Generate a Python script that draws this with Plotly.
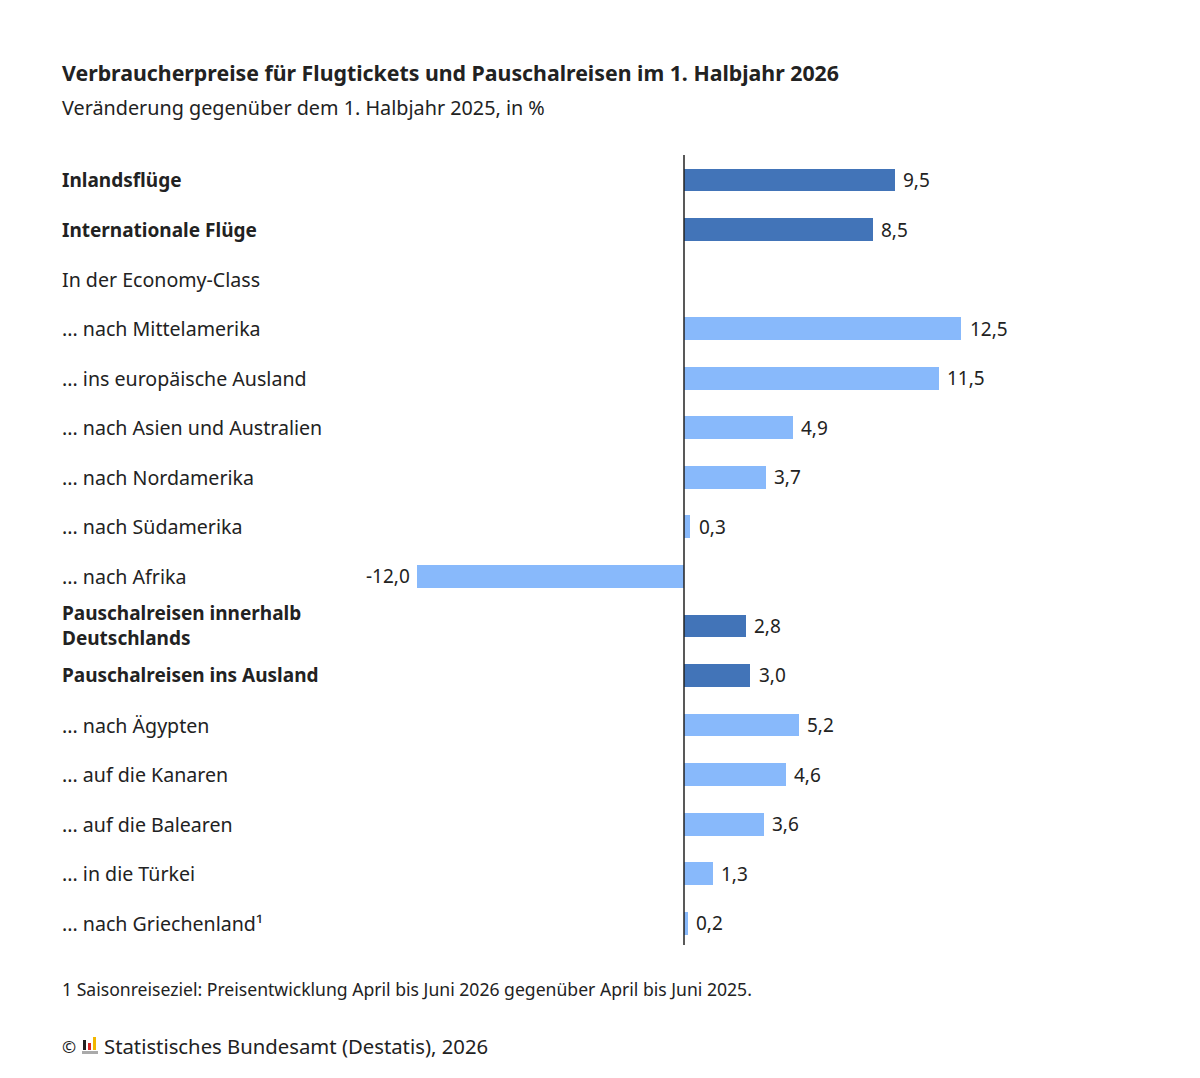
import plotly.graph_objects as go

W, H = 1200, 1078

categories = [
    "<b>Inlandsflüge</b>",
    "<b>Internationale Flüge</b>",
    "In der Economy-Class",
    "... nach Mittelamerika",
    "... ins europäische Ausland",
    "... nach Asien und Australien",
    "... nach Nordamerika",
    "... nach Südamerika",
    "... nach Afrika",
    "<b>Pauschalreisen innerhalb<br>Deutschlands</b>",
    "<b>Pauschalreisen ins Ausland</b>",
    "... nach Ägypten",
    "... auf die Kanaren",
    "... auf die Balearen",
    "... in die Türkei",
    "... nach Griechenland¹",
]
values = [9.5, 8.5, None, 12.5, 11.5, 4.9, 3.7, 0.3, -12.0, 2.8, 3.0, 5.2, 4.6, 3.6, 1.3, 0.2]
is_total = [True, True, False, False, False, False, False, False, False, True, True, False, False, False, False, False]

DARK = "#4274b8"
LIGHT = "#88b9fb"
TEXT = "#222222"
FONT = "Noto Sans"

def px_x(p):
    return p / W

def px_y(p):
    return 1 - p / H

ypos = list(range(len(categories)))
colors = [DARK if t else LIGHT for t in is_total]

fig = go.Figure()
fig.add_trace(go.Bar(
    x=[v if v is not None else 0 for v in values],
    y=ypos,
    orientation="h",
    marker=dict(color=colors, line=dict(width=0)),
    width=0.46,
    hoverinfo="skip",
))

# zero axis line
fig.add_shape(type="line", xref="x", yref="paper", x0=0, x1=0,
              y0=px_y(945), y1=px_y(155), line=dict(color=TEXT, width=1.5))

LX = 60
annotations = []
for i, (cat, v) in enumerate(zip(categories, values)):
    bold = cat.startswith("<b>")
    annotations.append(dict(
        x=px_x(LX), xref="paper", y=i, yref="y", text=cat,
        xanchor="left", yanchor="middle", align="left", showarrow=False,
        font=dict(family=FONT, size=19 if bold else 19.6, color=TEXT),
    ))
    if v is not None:
        lbl = f"{v:.1f}".replace(".", ",")
        annotations.append(dict(
            x=v, xref="x", y=i, yref="y", text=lbl,
            xanchor="left" if v >= 0 else "right", yanchor="middle",
            xshift=6 if v >= 0 else -6, showarrow=False,
            font=dict(family=FONT, size=19, color=TEXT),
        ))

annotations += [
    dict(x=px_x(LX), y=px_y(72), xref="paper", yref="paper", xanchor="left", yanchor="middle",
         text="<b>Verbraucherpreise für Flugtickets und Pauschalreisen im 1. Halbjahr 2026</b>",
         showarrow=False, font=dict(family=FONT, size=21.3, color=TEXT)),
    dict(x=px_x(LX), y=px_y(107), xref="paper", yref="paper", xanchor="left", yanchor="middle",
         text="Veränderung gegenüber dem 1. Halbjahr 2025, in %",
         showarrow=False, font=dict(family=FONT, size=19.8, color=TEXT)),
    dict(x=px_x(LX), y=px_y(989), xref="paper", yref="paper", xanchor="left", yanchor="middle",
         text="1 Saisonreiseziel: Preisentwicklung April bis Juni 2026 gegenüber April bis Juni 2025.",
         showarrow=False, font=dict(family=FONT, size=17.6, color=TEXT)),
    dict(x=px_x(LX), y=px_y(1046), xref="paper", yref="paper", xanchor="left", yanchor="middle",
         text="©", showarrow=False, font=dict(family=FONT, size=17, color=TEXT)),
    dict(x=px_x(102), y=px_y(1046), xref="paper", yref="paper", xanchor="left", yanchor="middle",
         text="Statistisches Bundesamt (Destatis), 2026",
         showarrow=False, font=dict(family=FONT, size=20.3, color=TEXT)),
]

# small Destatis logo
logo = [(83, 1040, 86, 1050, "#222222"), (88, 1043, 91, 1050, "#d62828"),
        (93, 1037, 96, 1050, "#f2b600"), (82, 1051, 98, 1054, "#aaaaaa")]
for x0, y0, x1, y1, c in logo:
    fig.add_shape(type="rect", xref="paper", yref="paper",
                  x0=px_x(x0), x1=px_x(x1), y0=px_y(y1), y1=px_y(y0),
                  fillcolor=c, line=dict(width=0))

ppu = 22.2
zero_px = 684
x_lo, x_hi = -14.0, 16.0
fig.update_layout(
    width=W, height=H,
    margin=dict(l=0, r=0, t=0, b=0),
    paper_bgcolor="white", plot_bgcolor="white",
    showlegend=False,
    annotations=annotations,
    xaxis=dict(range=[x_lo, x_hi],
               domain=[px_x(zero_px + x_lo * ppu), px_x(zero_px + x_hi * ppu)],
               visible=False, fixedrange=True),
    yaxis=dict(range=[15.44, -0.505], domain=[px_y(945), px_y(155)],
               visible=False, fixedrange=True),
    bargap=0,
)

fig.write_html("out.html")
